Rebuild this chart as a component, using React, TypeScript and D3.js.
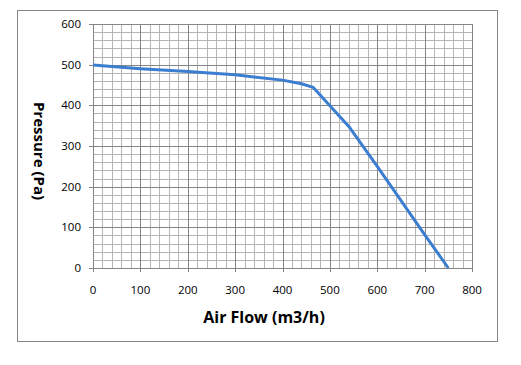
import React from "react";
import * as d3 from "d3";

const airFlow = [0, 100, 200, 300, 400, 440, 465, 540, 600, 700, 750];
const pressure = [499, 490, 483, 475, 462, 453, 444, 348, 250, 82, 0];
const xTicks = [0, 100, 200, 300, 400, 500, 600, 700, 800];
const yTicks = [0, 100, 200, 300, 400, 500, 600];

const W = 521;
const H = 365;
const margin = { top: 24, right: 49, bottom: 97, left: 93 };
const font = "'Open Sans', 'DejaVu Sans', sans-serif";

export default function App() {
  const x = d3.scaleLinear().domain([0, 800]).range([margin.left, W - margin.right]);
  const y = d3.scaleLinear().domain([0, 600]).range([H - margin.bottom, margin.top]);

  const minorX = d3.range(0, 801, 20).filter((v) => v % 100 !== 0);
  const minorY = d3.range(0, 601, 20).filter((v) => v % 100 !== 0);

  const line = d3
    .line<number>()
    .x((d, i) => x(airFlow[i]))
    .y((d) => y(d));

  const x0 = x(0), x1 = x(800), y0 = y(0), y1 = y(600);

  return (
    <svg
      width={W}
      height={H}
      style={{ position: "absolute", left: 0, top: 0, background: "#fff" }}
    >
      <rect x={17.5} y={10.5} width={480} height={331} fill="#fff" stroke="#868686" />
      {/* minor grid */}
      <g stroke="#b4b4b4" strokeWidth={1}>
        {minorX.map((v) => (
          <line key={"mx" + v} x1={Math.round(x(v)) + 0.5} x2={Math.round(x(v)) + 0.5} y1={y1} y2={y0} />
        ))}
        {minorY.map((v) => (
          <line key={"my" + v} x1={x0} x2={x1} y1={Math.round(y(v)) + 0.5} y2={Math.round(y(v)) + 0.5} />
        ))}
      </g>
      {/* major grid */}
      <g stroke="#868686" strokeWidth={1}>
        {xTicks.map((v) => (
          <line key={"Mx" + v} x1={Math.round(x(v)) + 0.5} x2={Math.round(x(v)) + 0.5} y1={y1} y2={y0 + 4} />
        ))}
        {yTicks.map((v) => (
          <line key={"My" + v} x1={x0 - 4} x2={x1} y1={Math.round(y(v)) + 0.5} y2={Math.round(y(v)) + 0.5} />
        ))}
      </g>
      <path d={line(pressure) ?? ""} fill="none" stroke="#3b7dd0" strokeWidth={3} strokeLinejoin="round" />
      <g fontFamily={font} fontSize={11.5} fill="#000">
        {yTicks.map((v) => (
          <text key={"ty" + v} x={x0 - 12} y={y(v)} dy="0.35em" textAnchor="end">
            {v}
          </text>
        ))}
        {xTicks.map((v) => (
          <text key={"tx" + v} x={x(v)} y={y0 + 22} dy="0.35em" textAnchor="middle">
            {v}
          </text>
        ))}
      </g>
      <text x={264} y={323} textAnchor="middle" fontFamily={font} fontWeight="bold" fontSize={16}>
        Air Flow (m3/h)
      </text>
      <text
        transform={`translate(34,151) rotate(90)`}
        textAnchor="middle"
        fontFamily={font}
        fontWeight="bold"
        fontSize={15}
      >
        Pressure (Pa)
      </text>
    </svg>
  );
}
